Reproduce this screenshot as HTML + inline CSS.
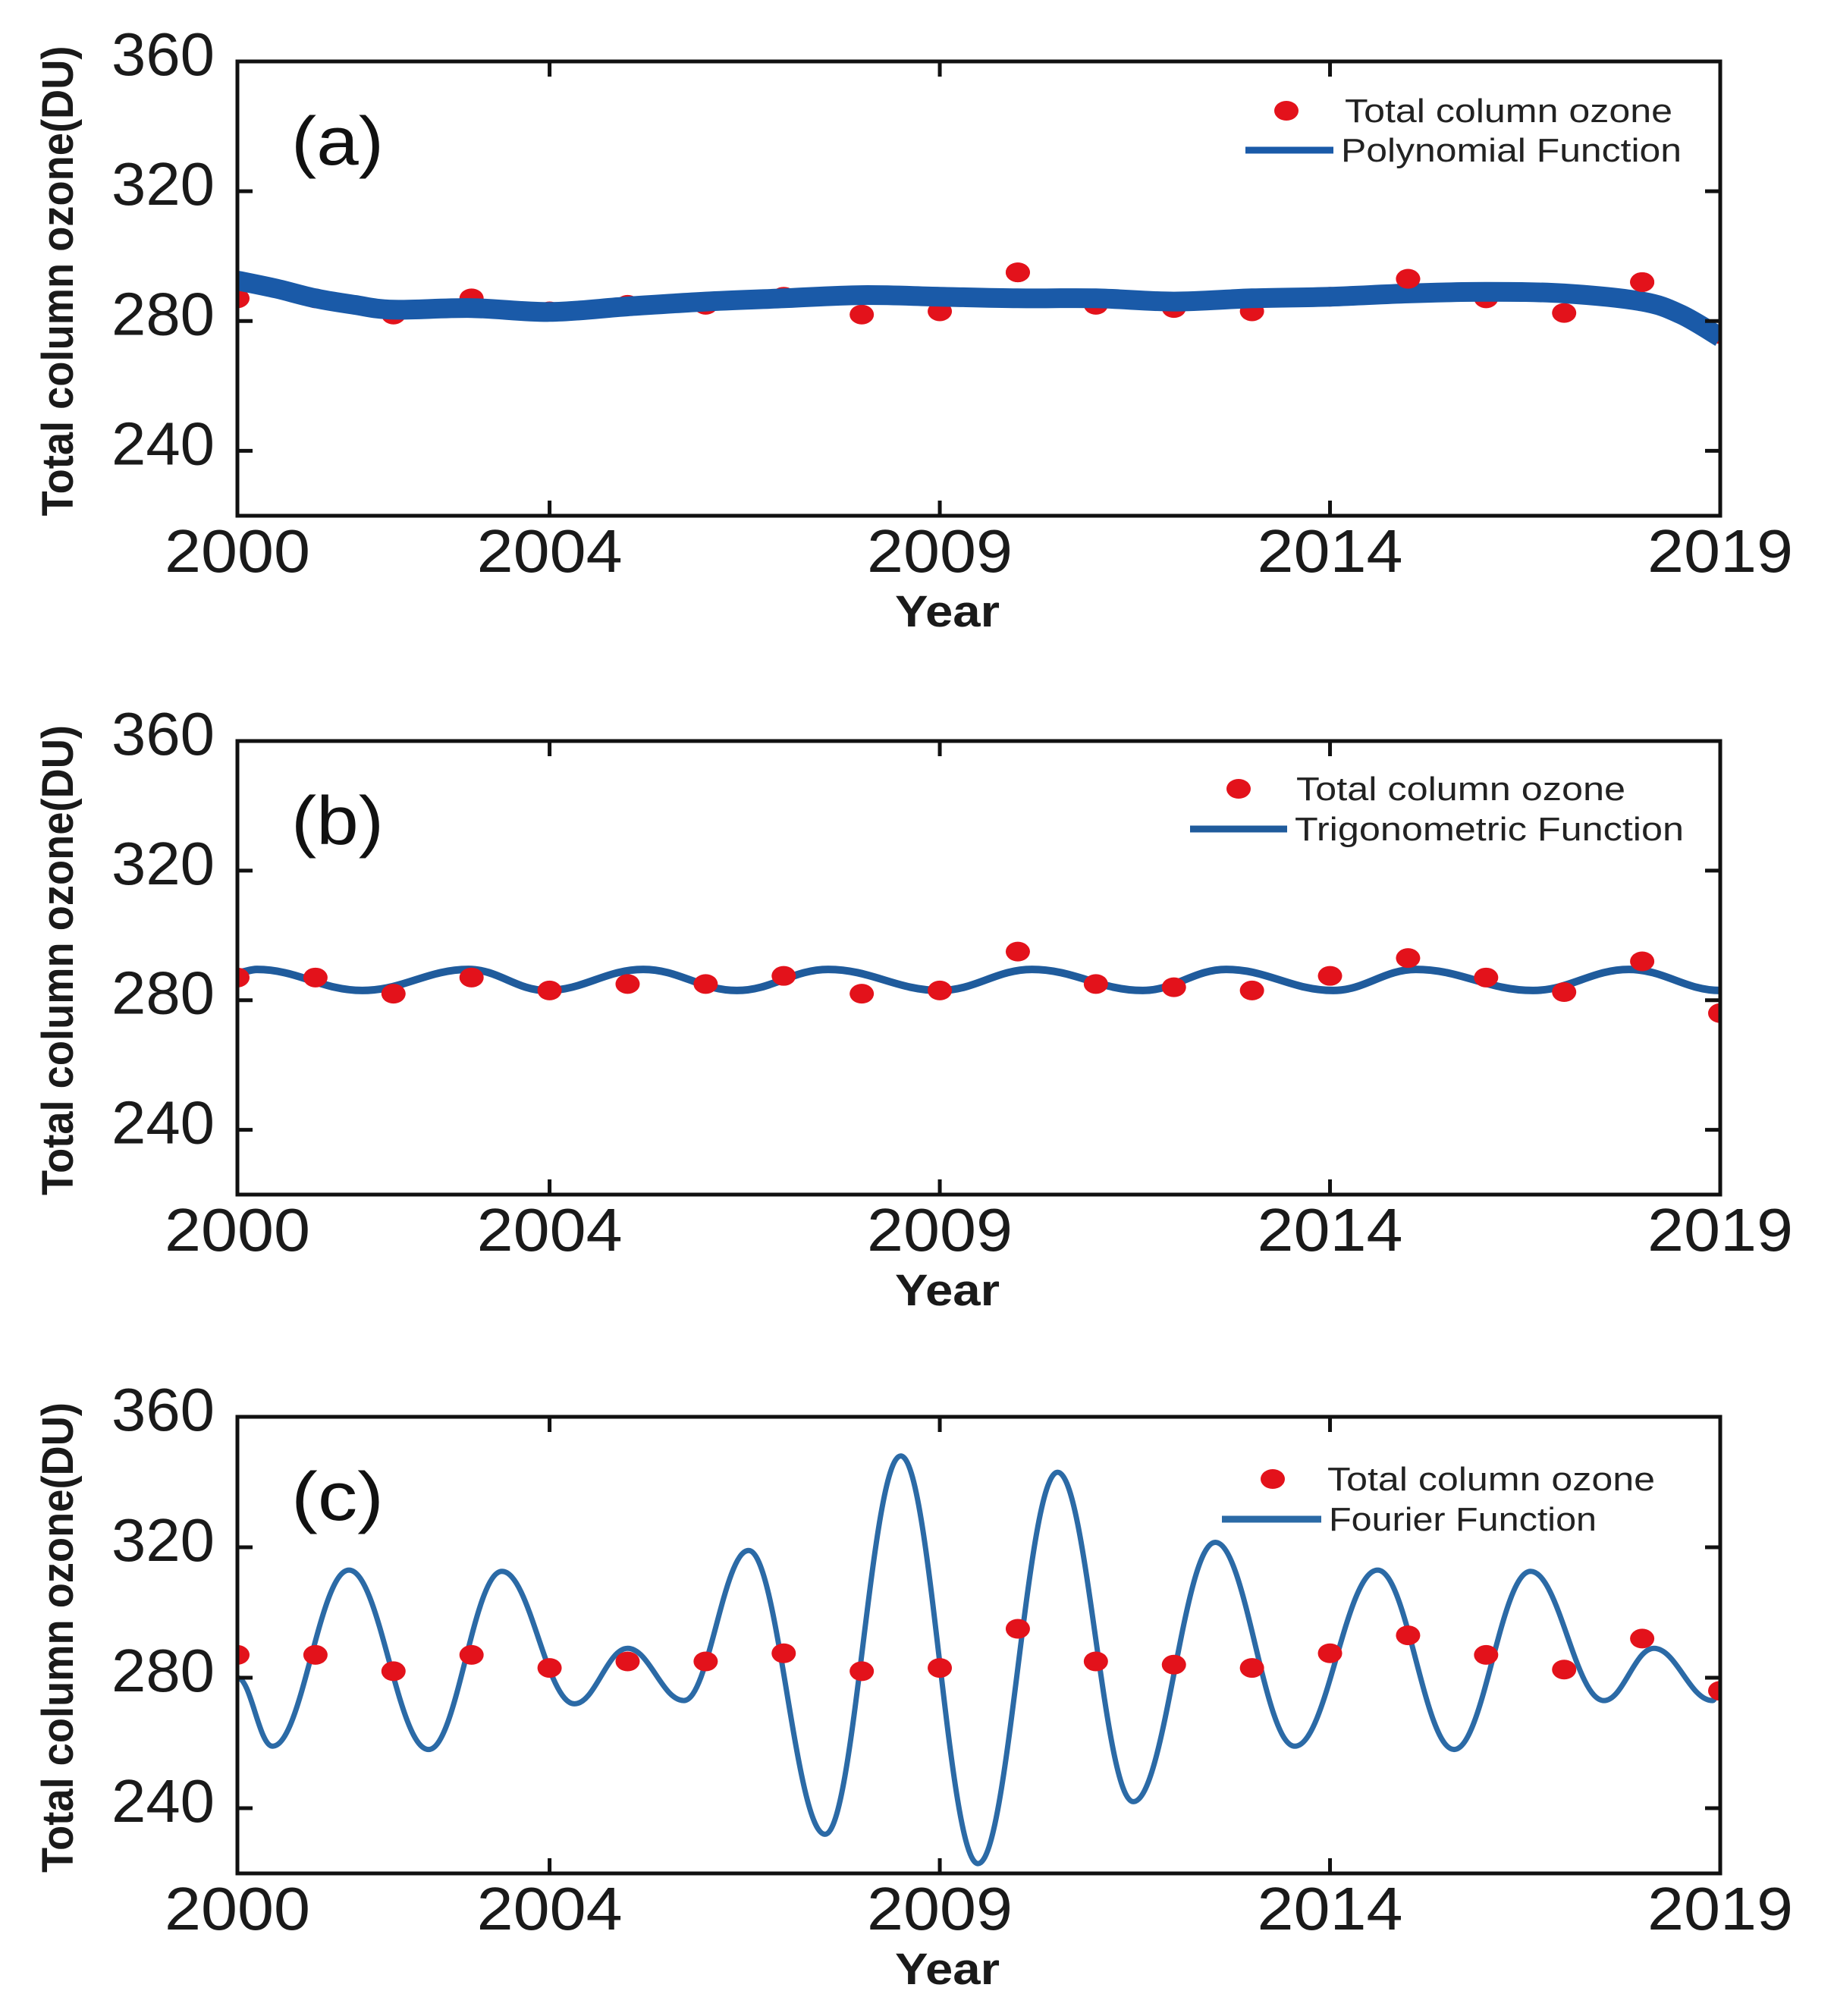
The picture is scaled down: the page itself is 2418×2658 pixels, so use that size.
<!DOCTYPE html>
<html><head><meta charset="utf-8"><style>
html,body{margin:0;padding:0;background:#fff;}
svg{display:block;}
text{font-family:"Liberation Sans",sans-serif;}
</style></head><body>
<svg id="fig" width="2418" height="2658" viewBox="0 0 2418 2658" xmlns="http://www.w3.org/2000/svg"></svg>
<script>
// ---- data ----
const years = [2000,2001,2002,2003,2004,2005,2006,2007,2008,2009,2010,2011,2012,2013,2014,2015,2016,2017,2018,2019];
const ozoneObs = [287,287,282,287,283,285,285,287.5,282,283,295,285,284,283,287.5,293,287,282.5,292,276];
const xTickLabels = [2000,2004,2009,2014,2019];
const yTickLabels = [240,280,320,360];
// polynomial fit (a): year, value
const polyX = [2000,2000.5,2001,2001.5,2002,2003,2004,2005,2006,2007,2008,2009,2010,2011,2012,2013,2014,2015,2016,2017,2018,2018.5,2019];
const polyY = [292.5,290,287,285,283.5,284,282.8,284.5,286,287,288,287.5,287,287,286,287,287.5,288.5,289,288.5,286,282,275];
// trigonometric fit (b): extrema
const trigX = [2000,2000.25,2001.6,2002.96,2003.96,2005.2,2006.4,2007.57,2009.0,2010.18,2011.6,2012.67,2014.04,2015.1,2016.6,2017.83,2019];
const trigY = [288.5,289.5,283,289.5,283,289.5,283,289.5,283,289.5,283,289.5,283,289.5,283,289.5,283];
// Fourier fit (c): extrema
const fourX = [2000,2000.45,2001.43,2002.45,2003.39,2004.32,2005.0,2005.72,2006.55,2007.53,2008.5,2009.49,2010.51,2011.48,2012.53,2013.55,2014.61,2015.59,2016.57,2017.51,2018.15,2018.9,2019];
const fourY = [280,259,313,258,312.6,272,289,273,319,232,348,223,343,242,321.5,259,313,258,312.6,273,289,273,276];

const NS = "http://www.w3.org/2000/svg";
const svg = document.getElementById('fig');
function el(tag, attrs, parent){const e=document.createElementNS(NS,tag);for(const k in attrs)e.setAttribute(k,attrs[k]);(parent||svg).appendChild(e);return e;}

const L=313, R=2268, YMIN=220, YMAX=360;
function sx(y){return L+(y-2000)/19*(R-L);}

function smoothPath(xs, ys, X, Y){
  let d='M'+X(xs[0]).toFixed(1)+','+Y(ys[0]).toFixed(1);
  for(let i=1;i<xs.length;i++){
    const x0=X(xs[i-1]),y0=Y(ys[i-1]),x1=X(xs[i]),y1=Y(ys[i]);
    const dx=(x1-x0)/2.6;
    d+=' C'+(x0+dx).toFixed(1)+','+y0.toFixed(1)+' '+(x1-dx).toFixed(1)+','+y1.toFixed(1)+' '+x1.toFixed(1)+','+y1.toFixed(1);
  }
  return d;
}
function linePath(xs, ys, X, Y){
  let d='M'+X(xs[0]).toFixed(1)+','+Y(ys[0]).toFixed(1);
  for(let i=0;i<xs.length-1;i++){
    const p0=[X(xs[Math.max(0,i-1)]),Y(ys[Math.max(0,i-1)])],p1=[X(xs[i]),Y(ys[i])],p2=[X(xs[i+1]),Y(ys[i+1])],p3=[X(xs[Math.min(xs.length-1,i+2)]),Y(ys[Math.min(xs.length-1,i+2)])];
    const c1=[p1[0]+(p2[0]-p0[0])/6,p1[1]+(p2[1]-p0[1])/6],c2=[p2[0]-(p3[0]-p1[0])/6,p2[1]-(p3[1]-p1[1])/6];
    d+=' C'+c1[0].toFixed(1)+','+c1[1].toFixed(1)+' '+c2[0].toFixed(1)+','+c2[1].toFixed(1)+' '+p2[0].toFixed(1)+','+p2[1].toFixed(1);
  }
  return d;
}

const panels=[
 {id:'a',top:81,bot:680,label:'(a)',fit:'Polynomial Function',fx:polyX,fy:polyY,color:'#1a5aa8',w:26,kind:'poly',
  lg:{dot:[1696,146],txt1:[1773,2205],line:[1642,1758,198],txt2end:2217}},
 {id:'b',top:977,bot:1575,label:'(b)',fit:'Trigonometric Function',fx:trigX,fy:trigY,color:'#1f5b9c',w:10,kind:'smooth',
  lg:{dot:[1633,1040],txt1:[1709,2143],line:[1569,1697,1093],txt2end:2220}},
 {id:'c',top:1868,bot:2470,label:'(c)',fit:'Fourier Function',fx:fourX,fy:fourY,color:'#2b6aa6',w:7,kind:'smooth',
  lg:{dot:[1678,1950],txt1:[1750,2182],line:[1611,1742,2003],txt2end:2105}}
];

panels.forEach(p=>{
  const g=el('g',{});
  
  
  const sy=v=>p.bot-(v-YMIN)/(YMAX-YMIN)*(p.bot-p.top);
  const clipId='clip'+p.id;
  const cp=el('clipPath',{id:clipId},g);
  el('rect',{x:L,y:p.top,width:R-L,height:p.bot-p.top},cp);
  const fit=el('path',{d:p.kind==='poly'?linePath(p.fx,p.fy,sx,sy):smoothPath(p.fx,p.fy,sx,sy),fill:'none',stroke:p.color,'stroke-width':p.w,'stroke-linejoin':'round','clip-path':'url(#'+clipId+')'},g);
  
  
  years.forEach((yr,i)=>{
    const c=el('ellipse',{cx:sx(yr),cy:sy(ozoneObs[i]),rx:16,ry:13,fill:'#e3121b','clip-path':'url(#'+clipId+')'},g);
    
    
  });
  if(p.kind==='poly'){
    g.appendChild(fit);
    years.forEach((yr,i)=>{ if(ozoneObs[i]>290){const c=el('ellipse',{cx:sx(yr),cy:sy(ozoneObs[i]),rx:16,ry:13,fill:'#e3121b'},g);
      
      }});
  }
  const box=el('rect',{x:L,y:p.top,width:R-L,height:p.bot-p.top,fill:'none',stroke:'#111','stroke-width':5},g);
  
  
  xTickLabels.forEach(t=>{
    const x=sx(t);
    el('line',{x1:x,x2:x,y1:p.bot,y2:p.bot-20,stroke:'#111','stroke-width':5},g);
    el('line',{x1:x,x2:x,y1:p.top,y2:p.top+20,stroke:'#111','stroke-width':5},g);
    const tx=el('text',{x:x,y:p.bot+74,'font-size':80,'text-anchor':'middle',fill:'#1a1a1a',textLength:192,lengthAdjust:'spacingAndGlyphs'},g);
    tx.textContent=t;
    
    
  });
  yTickLabels.forEach(t=>{
    const y=sy(t);
    el('line',{x1:L,x2:L+20,y1:y,y2:y,stroke:'#111','stroke-width':5},g);
    el('line',{x1:R,x2:R-20,y1:y,y2:y,stroke:'#111','stroke-width':5},g);
    const tx=el('text',{x:283,y:y+18,'font-size':80,'text-anchor':'end',fill:'#1a1a1a',textLength:136,lengthAdjust:'spacingAndGlyphs'},g);
    tx.textContent=t;
    
    
  });
  const xt=el('text',{x:1249,y:p.bot+146,'font-size':58,'font-weight':'bold','text-anchor':'middle',fill:'#1a1a1a',textLength:138,lengthAdjust:'spacingAndGlyphs'},g);
  xt.textContent='Year';
  
  
  const cy=(p.top+p.bot)/2-10;
  const yt=el('text',{x:0,y:0,'font-size':58,'font-weight':'bold','text-anchor':'middle',fill:'#1a1a1a',transform:'translate(96,'+cy+') rotate(-90)',textLength:620,lengthAdjust:'spacingAndGlyphs'},g);
  yt.textContent='Total column ozone(DU)';
  
  
  const pl=el('text',{x:384,y:p.top+136,'font-size':90,fill:'#111',textLength:122,lengthAdjust:'spacingAndGlyphs'},g);
  pl.textContent=p.label;
  
  
  const lg=el('g',{},g);
  
  
  el('ellipse',{cx:p.lg.dot[0],cy:p.lg.dot[1],rx:16,ry:13,fill:'#e3121b'},lg);
  const t1=el('text',{x:p.lg.txt1[0],y:p.lg.dot[1]+15,'font-size':44,fill:'#222',textLength:p.lg.txt1[1]-p.lg.txt1[0],lengthAdjust:'spacingAndGlyphs'},lg);
  t1.textContent='Total column ozone';
  
  
  el('line',{x1:p.lg.line[0],x2:p.lg.line[1],y1:p.lg.line[2],y2:p.lg.line[2],stroke:p.color,'stroke-width':9},lg);
  const t2=el('text',{x:p.lg.line[1]+10,y:p.lg.line[2]+15,'font-size':44,fill:'#222',textLength:p.lg.txt2end-p.lg.line[1]-10,lengthAdjust:'spacingAndGlyphs'},lg);
  t2.textContent=p.fit;
  
  
});
</script>
</body></html>
